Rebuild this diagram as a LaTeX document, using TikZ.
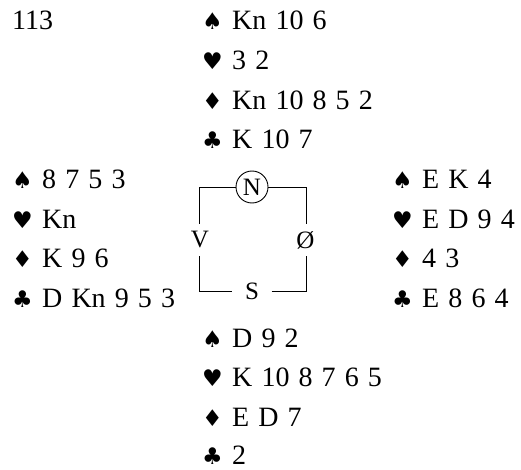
\documentclass[tikz,border=0pt]{standalone}
\usepackage{fontspec}
\setmainfont{Liberation Serif}[WordSpace=1.3]
\newfontfamily\suitfont{DejaVu Sans}
\begin{document}
\begin{tikzpicture}[x=1pt,y=-1pt,
  txt/.style={anchor=base west, inner sep=0pt, font=\fontsize{28}{30}\selectfont},
  suit/.style={anchor=base west, inner sep=0pt, font=\suitfont\fontsize{23}{24}\selectfont},
  lbl/.style={inner sep=0pt, font=\fontsize{25}{28}\selectfont},
  frame/.style={line width=0.9pt, black}]
\useasboundingbox (0,0) rectangle (521,470);
% board number
\node[txt] (num) at (12,30) {113};
% North
\node[suit] (ns) at (202,30) {♠};     \node[txt] (nst) at (232,30) {Kn 10 6};
\node[suit] (nh) at (202,69.6) {♥};   \node[txt] (nht) at (232,69.6) {3 2};
\node[suit] (nd) at (202,109.3) {♦};  \node[txt] (ndt) at (232,109.3) {Kn 10 8 5 2};
\node[suit] (nc) at (202,148.9) {♣};  \node[txt] (nct) at (232,148.9) {K 10 7};
% West
\node[suit] (ws) at (12,188.5) {♠};   \node[txt] (wst) at (42,188.5) {8 7 5 3};
\node[suit] (wh) at (12,228.2) {♥};   \node[txt] (wht) at (42,228.2) {Kn};
\node[suit] (wd) at (12,267.8) {♦};   \node[txt] (wdt) at (42,267.8) {K 9 6};
\node[suit] (wc) at (12,307.4) {♣};   \node[txt] (wct) at (42,307.4) {D Kn 9 5 3};
% East
\node[suit] (es) at (392,188.5) {♠};  \node[txt] (est) at (422,188.5) {E K 4};
\node[suit] (eh) at (392,228.2) {♥};  \node[txt] (eht) at (422,228.2) {E D 9 4};
\node[suit] (ed) at (392,267.8) {♦};  \node[txt] (edt) at (422,267.8) {4 3};
\node[suit] (ec) at (392,307.4) {♣};  \node[txt] (ect) at (422,307.4) {E 8 6 4};
% South
\node[suit] (ss) at (202,347.1) {♠};  \node[txt] (sst) at (232,347.1) {D 9 2};
\node[suit] (sh) at (202,386.7) {♥};  \node[txt] (sht) at (232,386.7) {K 10 8 7 6 5};
\node[suit] (sd) at (202,426.4) {♦};  \node[txt] (sdt) at (232,426.4) {E D 7};
\node[suit] (sc) at (202,464.5) {♣};  \node[txt] (sct) at (232,464.5) {2};
% compass
\node[lbl, circle, draw, line width=0.9pt, minimum size=32pt] (N) at (252,187) {N};
\node[lbl, minimum height=32pt] (V) at (200,240) {V};
\node[lbl, minimum height=32pt] (O) at (305.5,240) {Ø};
\node[lbl, minimum width=39pt] (S) at (252,291.5) {S};
\coordinate (tl) at (199,187);
\coordinate (tr) at (306,187);
\coordinate (bl) at (199,291);
\coordinate (br) at (306,291);
\draw[frame] (N.west) -- (tl) -- (tl |- V.north);
\draw[frame] (tl |- V.south) -- (bl) -- (S.west |- bl);
\draw[frame] (S.east |- br) -- (br) -- (tr |- O.south);
\draw[frame] (tr |- O.north) -- (tr) -- (N.east);
\end{tikzpicture}
\end{document}
